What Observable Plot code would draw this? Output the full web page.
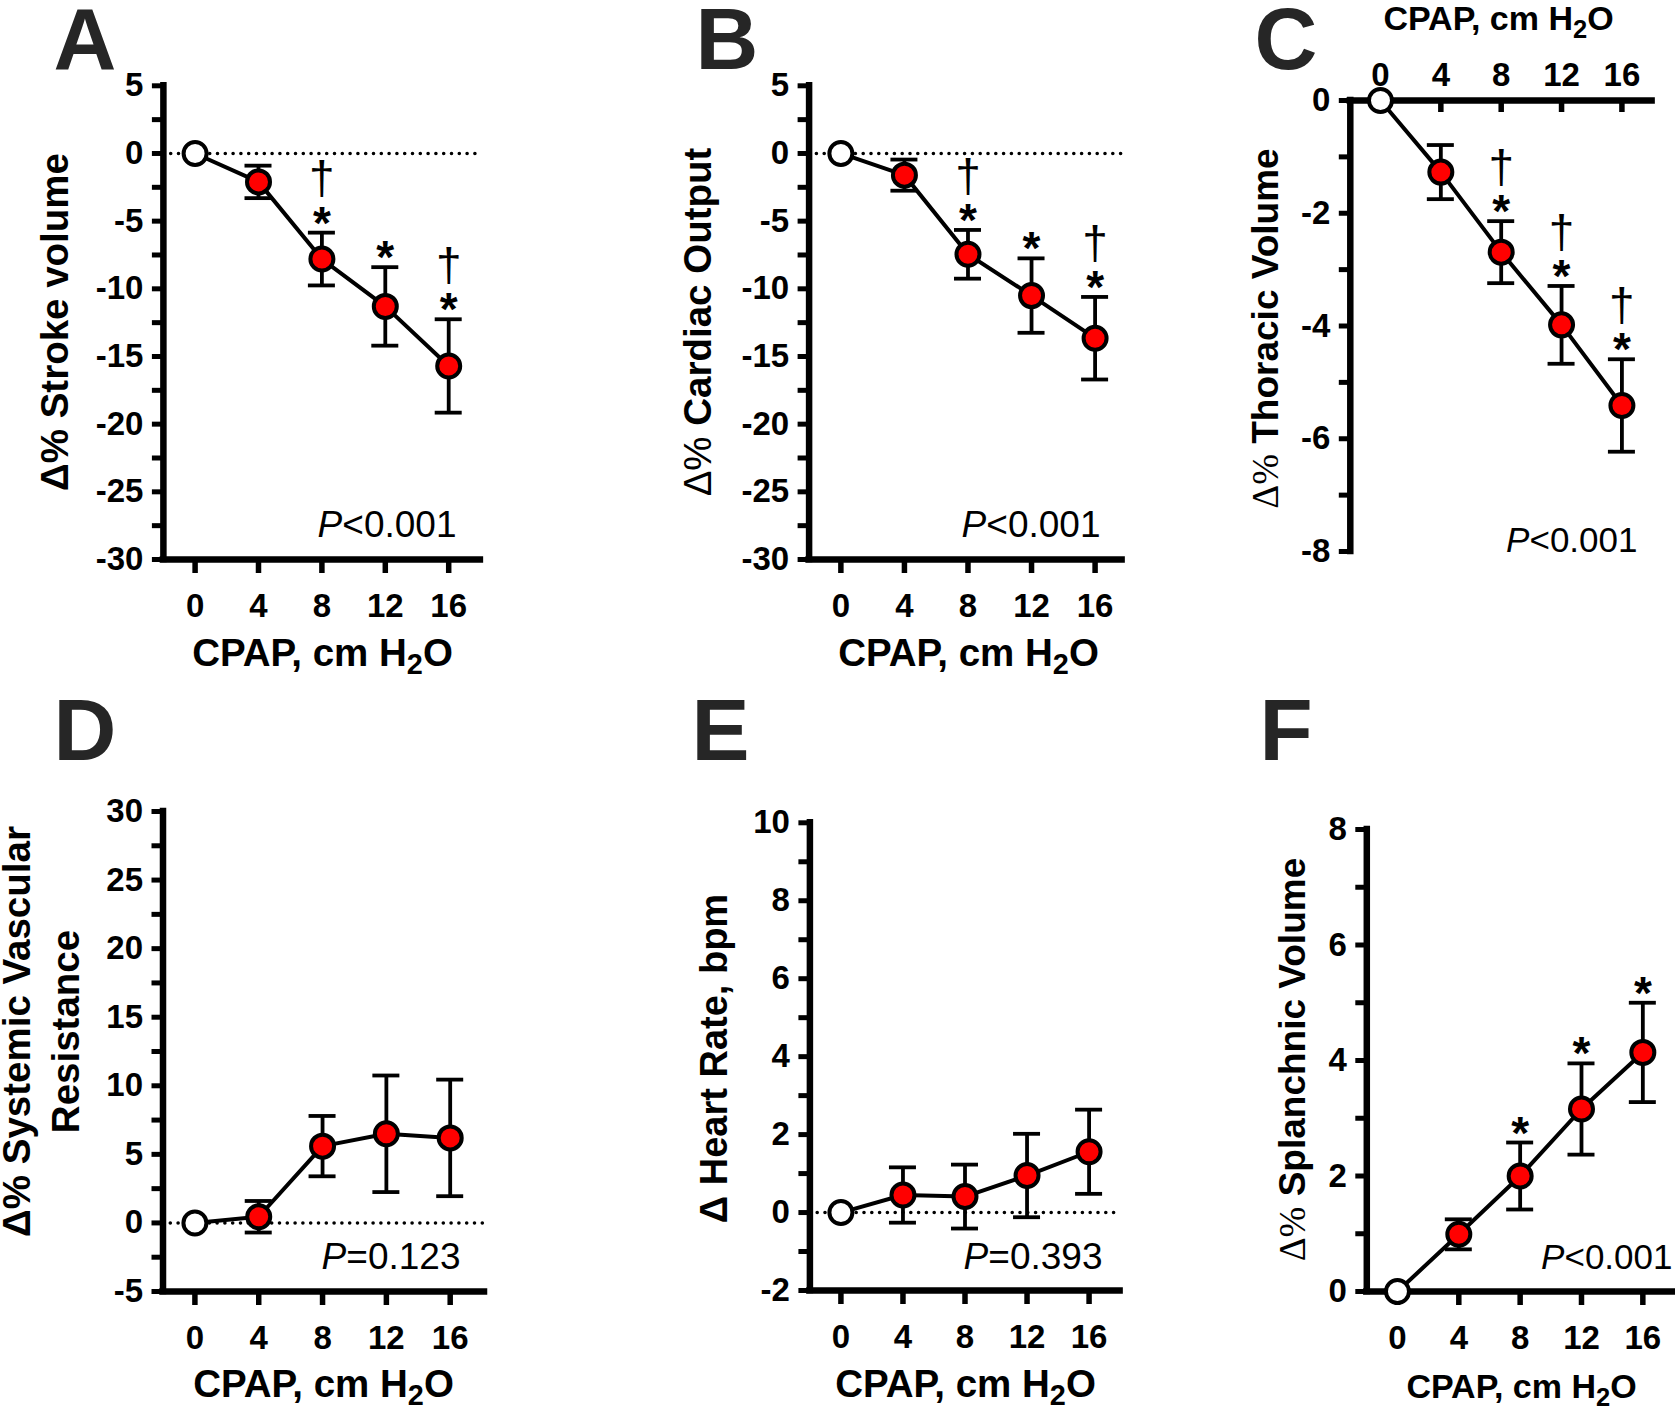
<!DOCTYPE html>
<html>
<head>
<meta charset="utf-8">
<script src="https://cdn.jsdelivr.net/npm/d3@7"></script>
<script src="https://cdn.jsdelivr.net/npm/@observablehq/plot@0.6"></script>
<style>
  body { margin: 0; background: #fff; }
  #fig { position: relative; width: 1675px; height: 1410px; overflow: hidden; background: #fff; }
  .panel { position: absolute; }
  .panel svg { overflow: visible; }
</style>
</head>
<body>
<div id="fig"></div>
<script>
// ---------- data ----------
const cpap = [0, 4, 8, 12, 16];
const xTicks = [0, 4, 8, 12, 16];
const xTitle = "CPAP, cm H2O";

// A: stroke volume
const strokeVolume = [0, -2.1, -7.8, -11.3, -15.7];
const strokeVolumeSem = [0, 1.2, 1.95, 2.9, 3.45];
const strokeVolumeStar = [0, 0, 1, 1, 1];
const strokeVolumeDagger = [0, 0, 1, 0, 1];
// B: cardiac output
const cardiacOutput = [0, -1.6, -7.45, -10.5, -13.65];
const cardiacOutputSem = [0, 1.15, 1.8, 2.75, 3.05];
const cardiacOutputStar = [0, 0, 1, 1, 1];
const cardiacOutputDagger = [0, 0, 1, 0, 1];
// C: thoracic volume
const thoracicVolume = [0, -1.27, -2.69, -3.98, -5.41];
const thoracicVolumeSem = [0, 0.48, 0.55, 0.69, 0.82];
const thoracicVolumeStar = [0, 0, 1, 1, 1];
const thoracicVolumeDagger = [0, 0, 1, 1, 1];
// D: systemic vascular resistance
const svr = [0, 0.45, 5.6, 6.5, 6.2];
const svrSem = [0, 1.15, 2.2, 4.25, 4.25];
const svrStar = [0, 0, 0, 0, 0];
const svrDagger = [0, 0, 0, 0, 0];
// E: heart rate
const heartRate = [0, 0.45, 0.41, 0.95, 1.56];
const heartRateSem = [0, 0.71, 0.82, 1.07, 1.08];
const heartRateStar = [0, 0, 0, 0, 0];
const heartRateDagger = [0, 0, 0, 0, 0];
// F: splanchnic volume
const splanchnicVolume = [0, 0.99, 2.0, 3.16, 4.14];
const splanchnicVolumeSem = [0, 0.26, 0.58, 0.79, 0.86];
const splanchnicVolumeStar = [0, 0, 1, 1, 1];
const splanchnicVolumeDagger = [0, 0, 0, 0, 0];

// tick values
const yMajorA = [-30, -25, -20, -15, -10, -5, 0, 5];
const yMinorA = [-27.5, -22.5, -17.5, -12.5, -7.5, -2.5, 2.5];
const yMajorC = [-8, -6, -4, -2, 0];
const yMinorC = [-7, -5, -3, -1];
const yMajorD = [-5, 0, 5, 10, 15, 20, 25, 30];
const yMinorD = [-2.5, 2.5, 7.5, 12.5, 17.5, 22.5, 27.5];
const yMajorE = [-2, 0, 2, 4, 6, 8, 10];
const yMinorE = [-1, 1, 3, 5, 7, 9];
const yMajorF = [0, 2, 4, 6, 8];
const yMinorF = [1, 3, 5, 7];

// texts
const panelLetters = ["A", "B", "C", "D", "E", "F"];
const yTitles = ["Δ% Stroke volume", "Δ% Cardiac Output", "Δ% Thoracic Volume",
                 "Δ% Systemic Vascular\nResistance", "Δ Heart Rate, bpm", "Δ% Splanchnic Volume"];
const pTexts = ["P<0.001", "P<0.001", "P<0.001", "P=0.123", "P=0.393", "P<0.001"];

// ---------- layout ----------
const FONT = "'Liberation Sans', Arial, Helvetica, sans-serif";
const panels = [
  {left: 0, top: 0, width: 560, height: 700, xr: [162.9, 479.9], yr: [559, 85.3],
   xDomain: [-2, 18], yDomain: [-30, 5], mean: strokeVolume, sem: strokeVolumeSem,
   star: strokeVolumeStar, dagger: strokeVolumeDagger, yMajor: yMajorA, yMinor: yMinorA,
   xAxis: "bottom", zero: true, deltaStyle: "bold", yTitleSize: 38.5,
   letter: [53, 68], yTitle: [68, 321.5], xTitle: [322, 665], xTitleSize: 38.5, p: [456, 536], pSize: 37},
  {left: 560, top: 0, width: 565, height: 700, xr: [808.6, 1121.6], yr: [559, 85.3],
   xDomain: [-2, 17.7], yDomain: [-30, 5], mean: cardiacOutput, sem: cardiacOutputSem,
   star: cardiacOutputStar, dagger: cardiacOutputDagger, yMajor: yMajorA, yMinor: yMinorA,
   xAxis: "bottom", zero: true, deltaStyle: "regular", yTitleSize: 38.5,
   letter: [695, 68], yTitle: [710, 321.5], xTitle: [968, 665], xTitleSize: 38.5, p: [1100, 536], pSize: 37},
  {left: 1120, top: 0, width: 555, height: 700, xr: [1349.8, 1651.6], yr: [551, 100],
   xDomain: [-2, 18], yDomain: [-8, 0], mean: thoracicVolume, sem: thoracicVolumeSem,
   star: thoracicVolumeStar, dagger: thoracicVolumeDagger, yMajor: yMajorC, yMinor: yMinorC,
   xAxis: "top", zero: false, deltaStyle: "serif", yTitleSize: 37,
   letter: [1254, 68], yTitle: [1277.5, 328], xTitle: [1498, 29], xTitleSize: 34, p: [1637, 551], pSize: 35},
  {left: 0, top: 640, width: 560, height: 770, xr: [162.5, 484], yr: [1291, 811],
   xDomain: [-2, 18.15], yDomain: [-5, 30], mean: svr, sem: svrSem,
   star: svrStar, dagger: svrDagger, yMajor: yMajorD, yMinor: yMinorD,
   xAxis: "bottom", zero: true, deltaStyle: "bold", yTitleSize: 38.5,
   letter: [53, 759], yTitle: [78.3, 1031], xTitle: [323, 1396], xTitleSize: 38.5, p: [460, 1268], pSize: 37},
  {left: 560, top: 640, width: 565, height: 770, xr: [809.4, 1119.6], yr: [1290, 822.3],
   xDomain: [-2, 18], yDomain: [-2, 10], mean: heartRate, sem: heartRateSem,
   star: heartRateStar, dagger: heartRateDagger, yMajor: yMajorE, yMinor: yMinorE,
   xAxis: "bottom", zero: true, deltaStyle: "bold", yTitleSize: 38,
   letter: [691, 759], yTitle: [726, 1058], xTitle: [965, 1396], xTitleSize: 38.5, p: [1102, 1268], pSize: 37},
  {left: 1120, top: 640, width: 555, height: 770, xr: [1366.3, 1675], yr: [1291, 829],
   xDomain: [-2, 18.13], yDomain: [0, 8], mean: splanchnicVolume, sem: splanchnicVolumeSem,
   star: splanchnicVolumeStar, dagger: splanchnicVolumeDagger, yMajor: yMajorF, yMinor: yMinorF,
   xAxis: "bottom", zero: false, deltaStyle: "serif", yTitleSize: 37,
   letter: [1259, 759], yTitle: [1304, 1059], xTitle: [1521, 1397], xTitleSize: 34, p: [1672, 1268], pSize: 35}
];

function enrich(svg, deltaStyle) {
  // dagger lines of the significance marks: regular weight
  d3.select(svg).selectAll("tspan").each(function () {
    if (this.textContent === "†") d3.select(this).attr("font-weight", "normal");
  });
  d3.select(svg).selectAll("text").each(function () {
    if (this.querySelector("tspan")) return;
    const el = d3.select(this);
    const s = this.textContent;
    if (s.includes("H2O")) {
      const [a, b] = s.split("H2O");
      el.text(null);
      el.append("tspan").text(a + "H");
      el.append("tspan").attr("font-size", "75%").attr("dy", 8).text("2");
      el.append("tspan").attr("dy", -8).text("O" + b);
    } else if (/^P[<=]/.test(s)) {
      el.text(null);
      el.append("tspan").attr("font-style", "italic").text("P");
      el.append("tspan").text(s.slice(1));
    } else if (s.startsWith("Δ%") && deltaStyle !== "bold") {
      el.text(null);
      const t = el.append("tspan").attr("font-weight", "normal").text("Δ%");
      if (deltaStyle === "serif") t.attr("font-family", "'Liberation Serif', 'Times New Roman', serif");
      el.append("tspan").text(s.slice(2));
    } else if (s === "†") {
      el.attr("font-weight", "normal");
    }
  });
}

const fig = document.getElementById("fig");
panels.forEach((p, k) => {
  const mL = p.xr[0] - p.left, mR = p.left + p.width - p.xr[1];
  const mT = p.yr[1] - p.top, mB = p.top + p.height - p.yr[0];
  const pxPerX = (p.xr[1] - p.xr[0]) / (p.xDomain[1] - p.xDomain[0]);
  const capHalf = 13.5 / pxPerX;
  const plotH = p.yr[0] - p.yr[1];
  const at = (px, py) => ({frameAnchor: "top-left", dx: px - p.xr[0], dy: py - p.yr[1]});
  const data = cpap.map((x, i) => ({x, y: p.mean[i], lo: p.mean[i] - p.sem[i], hi: p.mean[i] + p.sem[i],
                                    mark: (p.dagger[i] ? "†" : "") + (p.dagger[i] && p.star[i] ? "\n" : "") + (p.star[i] ? "*" : "")}));
  const bars = data.filter(d => d.x !== 0);
  const tickStyle = {fontSize: 33, fontWeight: "bold", tickFormat: d => String(d), label: null};

  const marks = [];
  if (p.zero) marks.push(Plot.ruleY([0], {stroke: "black", strokeWidth: 3.6, strokeDasharray: "0,7.8", strokeLinecap: "round"}));
  // axes
  marks.push(Plot.axisY({ticks: p.yMajor, tickSize: 11, tickPadding: 9, strokeWidth: 5, ...tickStyle}));
  marks.push(Plot.axisY({ticks: p.yMinor, tickSize: 11, strokeWidth: 5, tickFormat: () => "", label: null}));
  marks.push(Plot.ruleX([p.xDomain[0]], {strokeWidth: 6.5, strokeLinecap: "square"}));
  if (p.xAxis === "bottom") {
    marks.push(Plot.ruleY([p.yDomain[0]], {strokeWidth: 6.5, strokeLinecap: "square"}));
    marks.push(Plot.axisX({ticks: xTicks, tickSize: 14, tickPadding: 20, strokeWidth: 5.5, ...tickStyle}));
  } else {
    marks.push(Plot.ruleY([p.yDomain[1]], {strokeWidth: 6.5, strokeLinecap: "square"}));
    marks.push(Plot.axisX({anchor: "top", ticks: xTicks, tickSize: 0, tickPadding: 15, ...tickStyle}));
    marks.push(Plot.tickX(xTicks, {x: d => d, strokeWidth: 5.5, insetBottom: plotH - 12}));
  }
  // data
  marks.push(Plot.ruleX(bars, {x: "x", y1: "lo", y2: "hi", strokeWidth: 3.8}));
  marks.push(Plot.ruleY(bars, {y: "hi", x1: d => d.x - capHalf, x2: d => d.x + capHalf, strokeWidth: 3.8}));
  marks.push(Plot.ruleY(bars, {y: "lo", x1: d => d.x - capHalf, x2: d => d.x + capHalf, strokeWidth: 3.8}));
  marks.push(Plot.line(data, {x: "x", y: "y", stroke: "black", strokeWidth: 4}));
  marks.push(Plot.dot(data.filter(d => d.x === 0), {x: "x", y: "y", r: 11.5, fill: "white", stroke: "black", strokeWidth: 4}));
  marks.push(Plot.dot(bars, {x: "x", y: "y", r: 11.5, fill: "#ff0000", stroke: "black", strokeWidth: 4}));
  // significance marks: dagger stacked above asterisk
  marks.push(Plot.text(data.filter(d => d.mark), {x: "x", y: "hi", text: "mark", dy: 6, lineAnchor: "bottom", lineHeight: 0.96, fontSize: 46, fontWeight: "bold", fill: "black"}));
  // texts
  marks.push(Plot.text([panelLetters[k]], {...at(p.letter[0], p.letter[1]), text: d => d, textAnchor: "start", lineAnchor: "bottom", fontSize: 87, fontWeight: "bold", fill: "#262626"}));
  marks.push(Plot.text([yTitles[k]], {...at(p.yTitle[0], p.yTitle[1]), text: d => d, rotate: -90, textAnchor: "middle", lineAnchor: "bottom", lineHeight: 1.27, fontSize: p.yTitleSize, fontWeight: "bold", fill: "black"}));
  marks.push(Plot.text([xTitle], {...at(p.xTitle[0], p.xTitle[1]), text: d => d, textAnchor: "middle", lineAnchor: "bottom", fontSize: p.xTitleSize, fontWeight: "bold", fill: "black"}));
  marks.push(Plot.text([pTexts[k]], {...at(p.p[0], p.p[1]), text: d => d, textAnchor: "end", lineAnchor: "bottom", fontSize: p.pSize, fill: "black"}));

  const svg = Plot.plot({
    width: p.width, height: p.height,
    marginLeft: mL, marginRight: mR, marginTop: mT, marginBottom: mB,
    x: {domain: p.xDomain, label: null},
    y: {domain: p.yDomain, label: null},
    style: {fontFamily: FONT, background: "transparent", overflow: "visible", color: "black"},
    marks
  });
  enrich(svg, p.deltaStyle);
  const div = document.createElement("div");
  div.className = "panel";
  div.style.left = p.left + "px";
  div.style.top = p.top + "px";
  div.style.width = p.width + "px";
  div.style.height = p.height + "px";
  div.appendChild(svg);
  fig.appendChild(div);
});
</script>
</body>
</html>
